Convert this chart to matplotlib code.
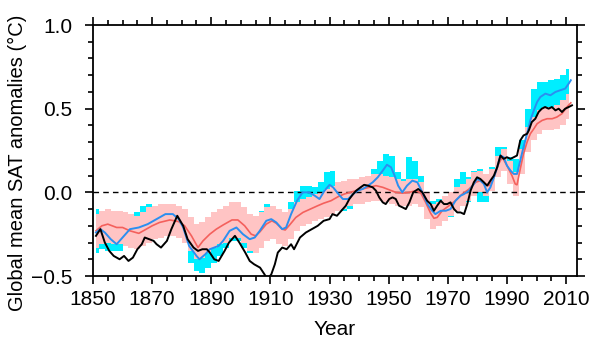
import matplotlib
matplotlib.use("Agg")
import matplotlib.pyplot as plt
import numpy as np
from matplotlib.ticker import MultipleLocator, FuncFormatter

# ---- data ----
black_years = [1851, 1852.5, 1854, 1855.5, 1857, 1859, 1860.5, 1862, 1863.5, 1865,
               1866.5, 1867.5, 1869, 1870.5, 1871.5, 1873, 1875, 1876.5, 1878.5, 1880.5,
               1882, 1884, 1885.5, 1887, 1888.5, 1889.5, 1891, 1892.5, 1894.5, 1896,
               1898, 1899.5, 1901.5, 1903, 1904.5, 1906.5, 1908, 1909, 1910.3, 1911.5,
               1912.5, 1914, 1915.5, 1917, 1918, 1920, 1922, 1924, 1926, 1928,
               1930, 1931, 1932.5, 1934, 1935.5, 1936.7, 1938, 1939, 1940.5, 1941.7,
               1943, 1944.6, 1945.7, 1946.8, 1948, 1949, 1950.2, 1951.3, 1952.4, 1953.5,
               1954.7, 1955.8, 1957, 1958.3, 1960, 1961.4, 1963, 1964.2, 1965.3, 1966.4,
               1967.6, 1968.7, 1969.8, 1970.9, 1972.1, 1973.2, 1974.3, 1975.5, 1976.6, 1977.7,
               1978.8, 1979.9, 1981, 1982.2, 1983.3, 1984.4, 1985.6, 1986.7, 1987.8, 1988.9,
               1990, 1991.2, 1992.3, 1993.4, 1994.5, 1995.6, 1996.8, 1997.4, 1998.4, 1999.6,
               2000.7, 2001.8, 2002.9, 2004.1, 2005.2, 2006.4, 2007.5, 2008.6, 2009.7, 2010.9,
               2012]
black_vals = [-0.26, -0.22, -0.30, -0.35, -0.38, -0.40, -0.38, -0.41, -0.39, -0.34,
              -0.31, -0.27, -0.28, -0.29, -0.31, -0.33, -0.29, -0.22, -0.14, -0.20,
              -0.28, -0.33, -0.35, -0.34, -0.34, -0.36, -0.40, -0.41, -0.35, -0.30,
              -0.26, -0.30, -0.36, -0.41, -0.43, -0.45, -0.49, -0.52, -0.49, -0.43,
              -0.36, -0.33, -0.34, -0.31, -0.34, -0.27, -0.24, -0.22, -0.20, -0.17,
              -0.16, -0.13, -0.14, -0.11, -0.08, -0.04, -0.01, 0.01, 0.03, 0.045,
              0.04, 0.03, 0.01, -0.03, -0.06, -0.07, -0.04, -0.03, -0.04, -0.08,
              -0.09, -0.10, -0.06, 0.00, 0.02, 0.00, -0.05, -0.07, -0.11, -0.08,
              -0.05, -0.07, -0.07, -0.06, -0.10, -0.12, -0.12, -0.13, -0.07, 0.01,
              0.06, 0.09, 0.08, 0.06, 0.04, 0.07, 0.10, 0.15, 0.22, 0.20,
              0.21, 0.20, 0.21, 0.22, 0.31, 0.34, 0.35, 0.37, 0.42, 0.44,
              0.48, 0.50, 0.51, 0.50, 0.51, 0.49, 0.50, 0.48, 0.50, 0.51,
              0.52]

blue_years = [1851, 1852.5, 1854, 1856, 1858, 1860, 1862.5, 1865.5, 1868.5, 1871.5,
              1874.5, 1877, 1879, 1880.5, 1882.5, 1885, 1886, 1888, 1889.5, 1891,
              1892.5, 1894, 1896.2, 1898.5, 1900.7, 1903, 1904.7, 1906.4, 1908.6, 1910.3,
              1912, 1914, 1915.3, 1917, 1919, 1920.9, 1923, 1925, 1926.6, 1928.3,
              1930, 1931.2, 1933, 1934.5, 1936.3, 1938, 1939.5, 1941.2, 1943, 1944.6,
              1946.3, 1948, 1949.4, 1950.8, 1952, 1953.2, 1954.6, 1956.2, 1958, 1959.7,
              1961.4, 1963.1, 1964.7, 1965.8, 1967.6, 1969.3, 1970.9, 1972.6, 1974.3, 1975.5,
              1977.2, 1978.8, 1979.9, 1981, 1982.2, 1983.3, 1984.4, 1985.6, 1986.7, 1987.8,
              1988.9, 1990, 1991.2, 1992.3, 1993.4, 1994.5, 1995.6, 1996.8, 1997.9, 1999.1,
              2000.2, 2001.3, 2003, 2004.7, 2006.4, 2008, 2009.7, 2010.9, 2011.6]
blue_vals = [-0.24, -0.22, -0.24, -0.28, -0.31, -0.27, -0.22, -0.21, -0.19, -0.16,
             -0.13, -0.13, -0.16, -0.21, -0.32, -0.38, -0.40, -0.37, -0.34, -0.33,
             -0.32, -0.29, -0.23, -0.21, -0.25, -0.28, -0.27, -0.23, -0.17, -0.16,
             -0.18, -0.22, -0.21, -0.13, -0.05, 0.00, 0.00, -0.02, -0.04, 0.01,
             0.045, 0.03, -0.01, -0.04, -0.04, -0.01, 0.01, 0.02, 0.04, 0.06,
             0.09, 0.13, 0.165, 0.15, 0.10, 0.04, 0.00, 0.04, 0.07, 0.06,
             0.00, -0.07, -0.11, -0.13, -0.11, -0.11, -0.10, -0.05, -0.02, -0.01,
             0.01, 0.05, 0.08, 0.07, 0.05, 0.00, 0.03, 0.09, 0.15, 0.22,
             0.21, 0.16, 0.13, 0.11, 0.11, 0.19, 0.27, 0.35, 0.43, 0.49,
             0.54, 0.57, 0.59, 0.58, 0.60, 0.61, 0.62, 0.65, 0.67]

red_years = [1851, 1853, 1855, 1858, 1860, 1862.5, 1865.5, 1868, 1870, 1872.5,
             1876, 1879, 1881, 1883.3, 1885.5, 1887.2, 1889.5, 1891.7, 1894, 1897,
             1899, 1901.3, 1903.5, 1905, 1906.5, 1908.6, 1910.5, 1912, 1914, 1915,
             1916.5, 1918.6, 1921, 1923.5, 1926, 1928, 1930.5, 1933, 1935, 1937,
             1939, 1941, 1943.5, 1945.7, 1948, 1950.2, 1952.4, 1954.7, 1957, 1959.2,
             1960.9, 1962.5, 1964.2, 1965.3, 1966.4, 1968.1, 1970.4, 1972.6, 1974.9, 1977.2,
             1979.4, 1981, 1982.7, 1983.9, 1985.6, 1987.2, 1988.4, 1990, 1991.7, 1992.8,
             1993.4, 1994.5, 1995.6, 1996.8, 1997.9, 1999.1, 2000.2, 2001.9, 2003.6, 2005.3,
             2006.9, 2008.6, 2010.3, 2011.6]
red_vals = [-0.23, -0.20, -0.19, -0.21, -0.21, -0.23, -0.245, -0.22, -0.20, -0.18,
            -0.165, -0.175, -0.20, -0.26, -0.33, -0.29, -0.25, -0.22, -0.195, -0.165,
            -0.165, -0.20, -0.25, -0.26, -0.235, -0.19, -0.17, -0.185, -0.22, -0.225,
            -0.195, -0.15, -0.12, -0.10, -0.08, -0.065, -0.05, -0.025, -0.01, 0.00,
            0.01, 0.02, 0.03, 0.04, 0.03, 0.015, 0.00, -0.005, 0.00, 0.01,
            -0.005, -0.06, -0.125, -0.155, -0.15, -0.11, -0.08, -0.05, -0.01, 0.02,
            0.06, 0.07, 0.05, 0.04, 0.09, 0.17, 0.21, 0.16, 0.10, 0.05,
            0.045, 0.14, 0.23, 0.30, 0.35, 0.38, 0.41, 0.43, 0.44, 0.44,
            0.45, 0.47, 0.51, 0.535]

# band centres every two years, 1851 ... 2011
band_years = np.arange(1851, 2012, 2)
pink_lo = [-0.33, -0.31, -0.30, -0.31, -0.31, -0.32, -0.33, -0.34, -0.32, -0.30,
           -0.28, -0.27, -0.26, -0.26, -0.27, -0.30, -0.35, -0.40, -0.39, -0.36,
           -0.33, -0.31, -0.30, -0.27, -0.27, -0.30, -0.35, -0.36, -0.33, -0.29,
           -0.28, -0.31, -0.32, -0.28, -0.23, -0.20, -0.19, -0.17, -0.16, -0.15,
           -0.13, -0.11, -0.10, -0.08, -0.07, -0.07, -0.06, -0.05, -0.05, -0.06,
           -0.07, -0.08, -0.08, -0.08, -0.07, -0.09, -0.16, -0.22, -0.20, -0.17,
           -0.14, -0.11, -0.08, -0.05, -0.02, 0.00, -0.02, 0.01, 0.09, 0.13,
           0.05, -0.02, 0.11, 0.24, 0.31, 0.35, 0.37, 0.37, 0.38, 0.40,
           0.44]
pink_hi = [-0.13, -0.11, -0.10, -0.11, -0.11, -0.12, -0.13, -0.14, -0.12, -0.09,
           -0.08, -0.07, -0.07, -0.07, -0.08, -0.10, -0.15, -0.19, -0.18, -0.15,
           -0.12, -0.10, -0.08, -0.06, -0.06, -0.09, -0.13, -0.14, -0.12, -0.09,
           -0.08, -0.10, -0.12, -0.10, -0.06, -0.04, -0.03, -0.01, 0.00, 0.02,
           0.04, 0.06, 0.07, 0.08, 0.08, 0.09, 0.10, 0.11, 0.11, 0.10,
           0.09, 0.08, 0.07, 0.08, 0.08, 0.06, 0.00, -0.07, -0.06, -0.02,
           0.00, 0.03, 0.05, 0.08, 0.12, 0.13, 0.11, 0.14, 0.22, 0.26,
           0.19, 0.12, 0.26, 0.39, 0.45, 0.49, 0.51, 0.51, 0.52, 0.55,
           0.59]
cyan_lo = [-0.36, -0.34, -0.35, -0.35, -0.35, -0.32, -0.29, -0.28, -0.27, -0.26,
           -0.24, -0.22, -0.20, -0.20, -0.23, -0.30, -0.42, -0.47, -0.48, -0.45,
           -0.42, -0.38, -0.33, -0.29, -0.29, -0.33, -0.36, -0.33, -0.27, -0.24,
           -0.24, -0.28, -0.29, -0.21, -0.12, -0.07, -0.07, -0.09, -0.10, -0.05,
           -0.04, -0.08, -0.11, -0.10, -0.07, -0.05, -0.03, 0.00, 0.04, 0.09,
           0.07, -0.01, -0.06, -0.02, -0.01, -0.07, -0.14, -0.18, -0.18, -0.17,
           -0.15, -0.11, -0.08, -0.06, -0.01, -0.06, -0.06, 0.01, 0.12, 0.13,
           0.07, 0.04, 0.16, 0.31, 0.42, 0.47, 0.50, 0.50, 0.52, 0.54,
           0.58]
cyan_hi = [-0.10, -0.13, -0.17, -0.21, -0.20, -0.17, -0.14, -0.12, -0.08, -0.07,
           -0.08, -0.08, -0.07, -0.08, -0.09, -0.15, -0.25, -0.31, -0.31, -0.28,
           -0.26, -0.24, -0.19, -0.15, -0.14, -0.18, -0.20, -0.18, -0.11, -0.07,
           -0.08, -0.12, -0.14, -0.06, 0.01, 0.04, 0.04, 0.03, 0.06, 0.12,
           0.13, 0.06, 0.04, 0.07, 0.08, 0.09, 0.10, 0.14, 0.19, 0.23,
           0.22, 0.12, 0.08, 0.21, 0.19, 0.10, 0.00, -0.05, -0.04, -0.04,
           -0.02, 0.08, 0.12, 0.09, 0.13, 0.14, 0.08, 0.15, 0.27, 0.27,
           0.21, 0.20, 0.31, 0.50, 0.62, 0.66, 0.66, 0.67, 0.68, 0.70,
           0.74]

x_ticks = [1850, 1870, 1890, 1910, 1930, 1950, 1970, 1990, 2010]

CYAN = "#00eeff"
PINK = "#ffc4c4"
BLUE = "#2b8ff0"
RED = "#f4605c"

plt.rcParams["font.family"] = ["Liberation Sans", "DejaVu Sans"]

fig = plt.figure(figsize=(6, 3.46), dpi=100)
ax = fig.add_axes([0.155, 0.2023, 0.8067, 0.7254])

ax.fill_between(band_years, cyan_lo, cyan_hi, step="mid", color=CYAN, linewidth=0, zorder=1)
ax.fill_between(band_years, pink_lo, pink_hi, step="mid", color=PINK, linewidth=0, zorder=2)
ax.axhline(0, color="black", linestyle=(0, (4, 3)), linewidth=1.0, zorder=3)
ax.plot(red_years, red_vals, color=RED, linewidth=1.2, zorder=4)
ax.plot(blue_years, blue_vals, color=BLUE, linewidth=1.4, zorder=5)
ax.plot(black_years, black_vals, color="black", linewidth=1.4, zorder=6)

ax.set_xlim(1850, 2013.7)
ax.set_ylim(-0.5, 1.0)
ax.set_xticks(x_ticks)
ax.xaxis.set_minor_locator(MultipleLocator(5))
ax.yaxis.set_major_locator(MultipleLocator(0.5))
ax.yaxis.set_minor_locator(MultipleLocator(0.1))
ax.yaxis.set_major_formatter(FuncFormatter(lambda v, p: f"{v:.1f}".replace("-", "\u2212")))

ax.tick_params(which="both", direction="out", top=True, right=True,
               labelsize=15, width=1.2)
ax.tick_params(which="major", length=6)
ax.tick_params(which="minor", length=3.5)
ax.tick_params(axis="x", which="major", pad=4)
ax.tick_params(axis="y", which="major", pad=9)
for spine in ax.spines.values():
    spine.set_linewidth(1.3)

ax.set_xlabel("Year", fontsize=15, labelpad=8)
ax.set_ylabel("Global mean SAT anomalies (\u00b0C)", fontsize=14.5)
ax.yaxis.set_label_coords(-0.136, 0.452)

plt.savefig("out.png", dpi=100)
